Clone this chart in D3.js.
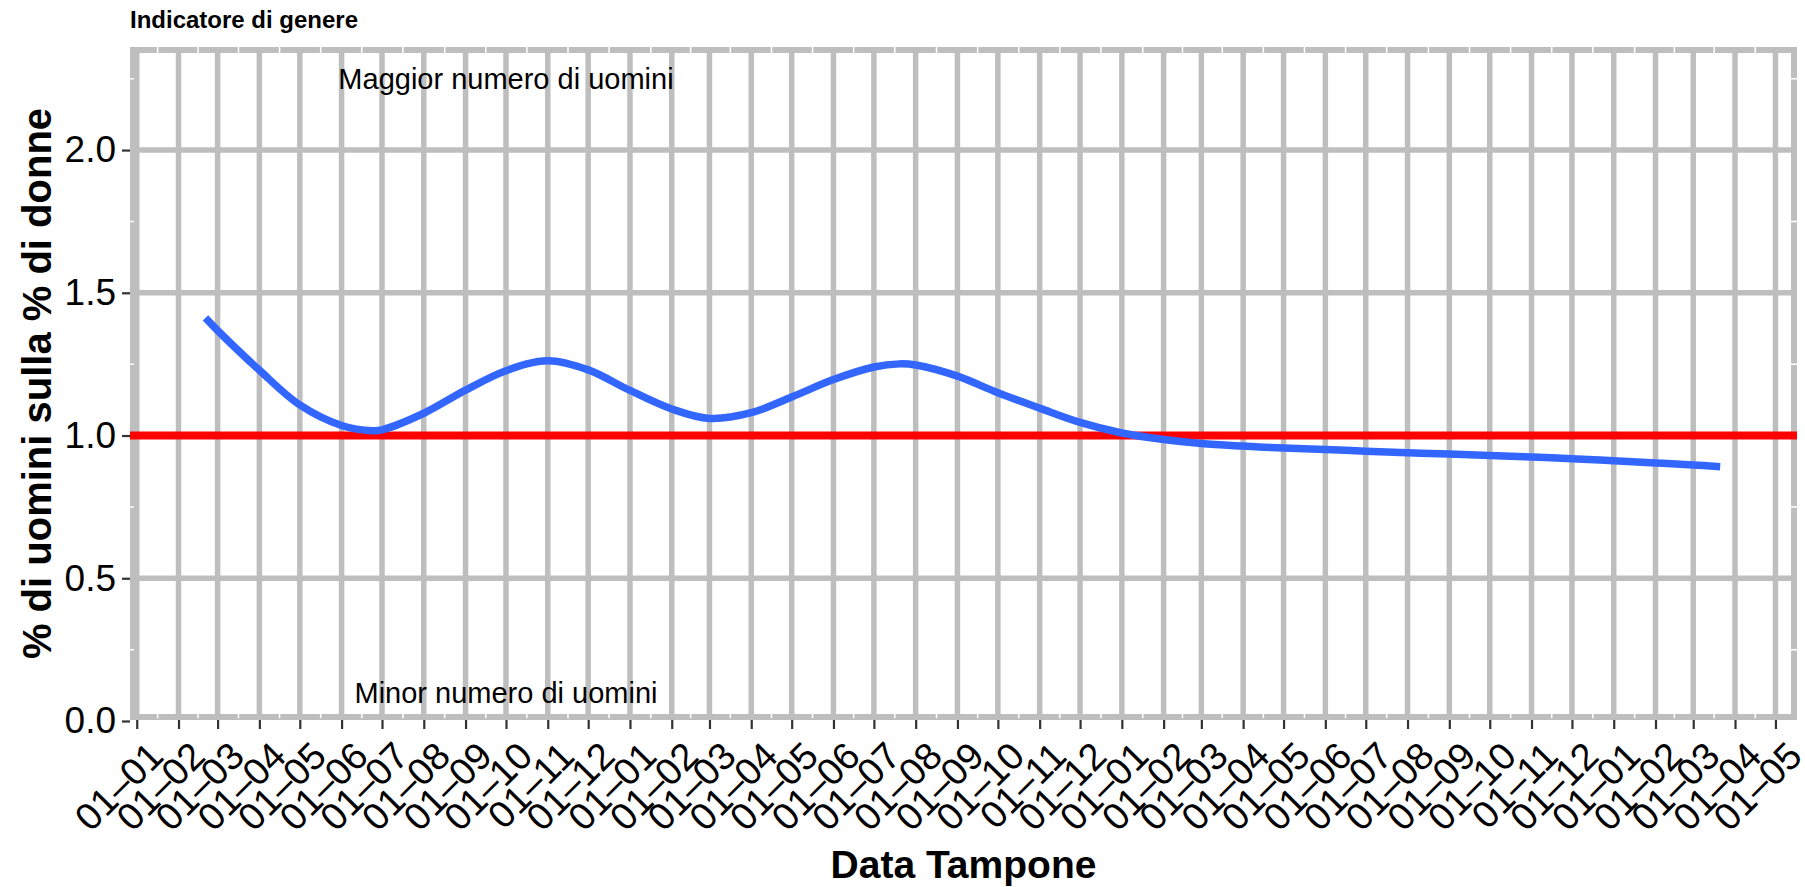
<!DOCTYPE html>
<html>
<head>
<meta charset="utf-8">
<script src="https://cdn.jsdelivr.net/npm/d3@7"></script>
<style>
  html, body { margin: 0; padding: 0; background: #ffffff; }
  svg { display: block; font-family: "Liberation Sans", Arial, Helvetica, sans-serif; }
</style>
</head>
<body>
<svg id="chart" width="1805" height="887"></svg>
<script>
// Smoothed ratio: % of men over % of women among positive swabs
const dates = [
  "2020-02-21", "2020-03-01", "2020-04-01", "2020-05-01", "2020-06-01", "2020-06-24",
  "2020-07-01", "2020-08-01", "2020-09-01", "2020-10-01", "2020-11-01", "2020-12-01",
  "2021-01-01", "2021-02-01", "2021-03-01", "2021-04-01", "2021-05-01", "2021-06-01",
  "2021-07-01", "2021-07-20", "2021-08-01", "2021-09-01", "2021-10-01", "2021-11-01",
  "2021-12-01", "2022-01-01", "2022-02-01", "2022-03-01", "2022-04-01", "2022-05-01",
  "2022-06-01", "2022-07-01", "2022-08-01", "2022-09-01", "2022-10-01", "2022-11-01",
  "2022-12-01", "2023-01-01", "2023-02-01", "2023-03-01", "2023-03-21"
];
const ratio = [
  1.412, 1.368, 1.229, 1.107, 1.035, 1.017,
  1.020, 1.078, 1.159, 1.227, 1.262, 1.230,
  1.158, 1.093, 1.060, 1.080, 1.135, 1.196,
  1.240, 1.251, 1.247, 1.208, 1.150, 1.096,
  1.046, 1.009, 0.986, 0.972, 0.963, 0.956,
  0.951, 0.945, 0.940, 0.935, 0.930, 0.925,
  0.919, 0.912, 0.904, 0.897, 0.891
];

// Reference level (equal shares) and annotations
const referenceLevel = 1.0;
const annotations = [
  { date: "2020-10-01", value: 2.25, text: "Maggior numero di uomini" },
  { date: "2020-10-01", value: 0.10, text: "Minor numero di uomini" }
];

const yTicks = [0, 0.5, 1.0, 1.5, 2.0];
const yMinor = [0.25, 0.75, 1.25, 1.75, 2.25];
const xDomain = ["2019-12-27", "2023-05-17"];
const yDomain = [0, 2.361];

const titleText = "Indicatore di genere";
const xTitle = "Data Tampone";
const yTitle = "% di uomini sulla % di donne";

const parse = d3.utcParse("%Y-%m-%d");
const series = dates.map((d, i) => ({ date: parse(d), value: ratio[i] }));

const panel = { left: 130, right: 1797, top: 47, bottom: 720 };
const svg = d3.select("#chart");

const x = d3.scaleUtc().domain(xDomain.map(parse)).range([panel.left, panel.right]);
const y = d3.scaleLinear().domain(yDomain).range([721, panel.top]);

const majorX = d3.utcMonth.range(d3.utcMonth.ceil(x.domain()[0]), x.domain()[1]);
const minorX = majorX.slice(0, -1).map((d, i) => new Date((+d + +majorX[i + 1]) / 2));

svg.append("defs").append("clipPath").attr("id", "panel-clip")
  .append("rect")
  .attr("x", panel.left).attr("y", panel.top)
  .attr("width", panel.right - panel.left).attr("height", panel.bottom - panel.top);

// Panel background with grey outline
const bw = 6;
svg.append("rect")
  .attr("x", panel.left + bw / 2).attr("y", panel.top + bw / 2)
  .attr("width", panel.right - panel.left - bw).attr("height", panel.bottom - panel.top - bw)
  .attr("fill", "#ffffff").attr("stroke", "#bebebe").attr("stroke-width", bw);

const grid = svg.append("g").attr("clip-path", "url(#panel-clip)");

// Minor grid (white)
grid.selectAll(".mx").data(minorX).join("line")
  .attr("x1", d => x(d)).attr("x2", d => x(d))
  .attr("y1", panel.top).attr("y2", panel.bottom)
  .attr("stroke", "#ffffff").attr("stroke-width", 1.5);
grid.selectAll(".my").data(yMinor).join("line")
  .attr("x1", panel.left).attr("x2", panel.right)
  .attr("y1", d => y(d)).attr("y2", d => y(d))
  .attr("stroke", "#ffffff").attr("stroke-width", 1.5);

// Major grid (grey)
grid.selectAll(".gx").data(majorX).join("line")
  .attr("x1", d => x(d)).attr("x2", d => x(d))
  .attr("y1", panel.top).attr("y2", panel.bottom)
  .attr("stroke", "#bebebe").attr("stroke-width", 5.5);
grid.selectAll(".gy").data(yTicks).join("line")
  .attr("x1", panel.left).attr("x2", panel.right)
  .attr("y1", d => y(d)).attr("y2", d => y(d))
  .attr("stroke", "#bebebe").attr("stroke-width", 5.5);

const marks = svg.append("g").attr("clip-path", "url(#panel-clip)");

// Reference line at 1
marks.append("line")
  .attr("x1", panel.left).attr("x2", panel.right)
  .attr("y1", y(referenceLevel)).attr("y2", y(referenceLevel))
  .attr("stroke", "#ff0000").attr("stroke-width", 8);

// Smoothed ratio curve
marks.append("path")
  .datum(series)
  .attr("fill", "none")
  .attr("stroke", "#3366ff")
  .attr("stroke-width", 7.5)
  .attr("d", d3.line().x(d => x(d.date)).y(d => y(d.value)).curve(d3.curveCatmullRom.alpha(0.5)));

// Annotations
svg.selectAll(".ann").data(annotations).join("text")
  .attr("x", d => x(parse(d.date)))
  .attr("y", d => y(d.value))
  .attr("dy", "0.35em")
  .attr("text-anchor", "middle")
  .attr("font-size", 29)
  .attr("fill", "#000000")
  .text(d => d.text);

// X axis
const xAxis = d3.axisBottom(x)
  .tickValues(majorX)
  .tickFormat(d3.utcFormat("%d–%m"))
  .tickSize(9)
  .tickPadding(4);
const gx = svg.append("g").attr("transform", `translate(0,${panel.bottom})`).call(xAxis);
gx.select(".domain").remove();
gx.selectAll(".tick line").attr("stroke", "#333333").attr("stroke-width", 2.2);
gx.selectAll(".tick text")
  .attr("font-size", 38)
  .attr("fill", "#000000")
  .attr("text-anchor", "end")
  .attr("dy", null)
  .attr("y", null)
  .attr("transform", "translate(9,19) rotate(-45)")
  .attr("dominant-baseline", "hanging");

// Y axis
const yAxis = d3.axisLeft(y)
  .tickValues(yTicks)
  .tickFormat(d3.format(".1f"))
  .tickSize(8)
  .tickPadding(6);
const gy = svg.append("g").attr("transform", `translate(${panel.left},0)`).call(yAxis);
gy.select(".domain").remove();
gy.selectAll(".tick line").attr("stroke", "#333333").attr("stroke-width", 2.2);
gy.selectAll(".tick text").attr("font-size", 37).attr("fill", "#000000");

// Titles
svg.append("text")
  .attr("x", 130).attr("y", 28)
  .attr("font-size", 24).attr("font-weight", "bold")
  .text(titleText);

svg.append("text")
  .attr("x", (panel.left + panel.right) / 2).attr("y", 878)
  .attr("text-anchor", "middle")
  .attr("font-size", 39).attr("font-weight", "bold")
  .text(xTitle);

svg.append("text")
  .attr("transform", `translate(51,${(panel.top + panel.bottom) / 2}) rotate(-90)`)
  .attr("text-anchor", "middle")
  .attr("font-size", 40).attr("font-weight", "bold")
  .text(yTitle);
</script>
</body>
</html>
